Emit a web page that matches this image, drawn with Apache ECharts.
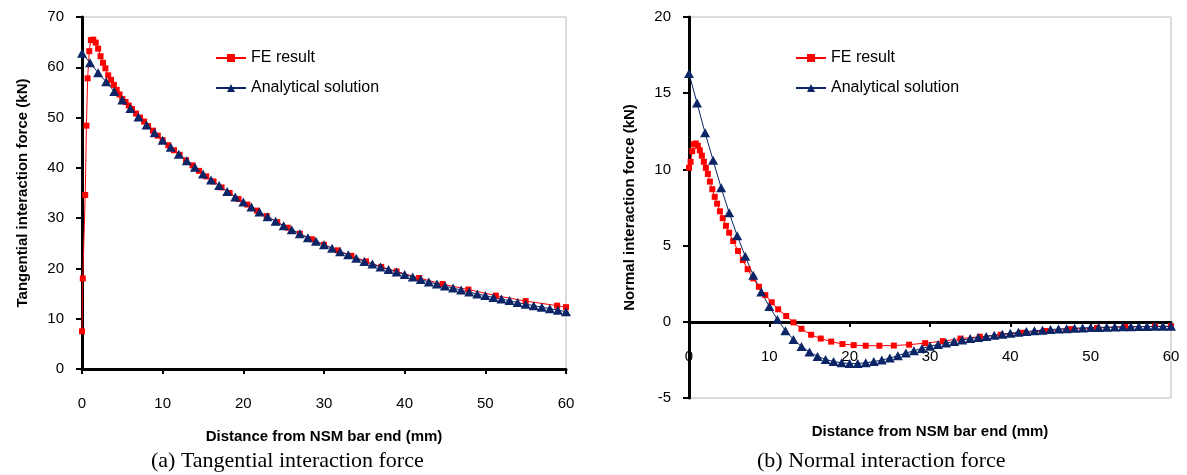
<!DOCTYPE html>
<html>
<head>
<meta charset="utf-8">
<script src="https://cdn.jsdelivr.net/npm/echarts@6/dist/echarts.min.js"></script>
<style>
html,body{margin:0;padding:0;background:#fff;}
#chart{width:1187px;height:475px;}
</style>
</head>
<body>
<div id="chart"></div>
<script>
// ---- Data ----
// Panel (a): tangential interaction force (kN)
const tangFE_x = [0, 0.1, 0.4, 0.55, 0.7, 0.9, 1.1, 1.4, 1.7, 2.0, 2.3, 2.6, 2.9, 3.25, 3.6, 3.95, 4.3, 4.65, 5.0, 5.4, 5.8, 6.2, 6.7, 7.2, 7.7, 8.2, 8.8, 9.4, 10.0, 10.7, 11.4, 12.1, 12.9, 13.7, 14.5, 15.4, 16.3, 17.3, 18.3, 19.4, 20.5, 21.7, 22.9, 24.2, 25.5, 27.0, 28.5, 30.0, 31.7, 33.4, 35.2, 37.1, 39.0, 41.8, 44.7, 47.9, 51.3, 55.0, 58.9, 60];
const tangFE_y = [7.5, 18.0, 34.6, 48.4, 57.8, 63.2, 65.4, 65.5, 64.9, 63.7, 62.2, 60.9, 59.8, 58.4, 57.5, 56.5, 55.5, 54.6, 53.7, 53.1, 52.4, 51.7, 50.8, 50.0, 49.2, 48.3, 47.4, 46.4, 45.5, 44.5, 43.5, 42.6, 41.5, 40.5, 39.4, 38.3, 37.3, 36.1, 35.0, 33.8, 32.7, 31.5, 30.4, 29.2, 28.1, 26.9, 25.8, 24.7, 23.6, 22.5, 21.4, 20.3, 19.4, 18.1, 16.9, 15.8, 14.6, 13.5, 12.6, 12.3];
const anaX = [0,1,2,3,4,5,6,7,8,9,10,11,12,13,14,15,16,17,18,19,20,21,22,23,24,25,26,27,28,29,30,31,32,33,34,35,36,37,38,39,40,41,42,43,44,45,46,47,48,49,50,51,52,53,54,55,56,57,58,59,60];
const tangAna_y = [62.8, 60.9, 58.9, 57.1, 55.2, 53.5, 51.8, 50.1, 48.5, 47.0, 45.5, 44.1, 42.7, 41.4, 40.1, 38.8, 37.6, 36.5, 35.3, 34.2, 33.2, 32.2, 31.2, 30.3, 29.4, 28.5, 27.7, 26.9, 26.1, 25.4, 24.7, 24.0, 23.3, 22.7, 22.0, 21.4, 20.9, 20.3, 19.8, 19.3, 18.8, 18.3, 17.8, 17.3, 16.9, 16.5, 16.1, 15.7, 15.3, 14.9, 14.6, 14.2, 13.9, 13.6, 13.2, 12.9, 12.6, 12.3, 12.0, 11.7, 11.4];
// Panel (b): normal interaction force (kN)
const normFE_x = [0, 0.2, 0.4, 0.6, 0.85, 1.1, 1.35, 1.6, 1.85, 2.1, 2.35, 2.6, 2.9, 3.2, 3.5, 3.85, 4.2, 4.6, 5.0, 5.5, 6.1, 6.7, 7.3, 8.0, 8.7, 9.5, 10.3, 11.1, 12.1, 13.0, 14.0, 15.2, 16.4, 17.7, 19.1, 20.5, 22.0, 23.7, 25.5, 27.4, 29.4, 31.6, 33.8, 36.2, 38.8, 41.5, 44.4, 47.5, 50.8, 54.3, 58.0, 60];
const normFE_y = [10.1, 10.5, 11.2, 11.65, 11.7, 11.55, 11.25, 10.9, 10.5, 10.1, 9.7, 9.2, 8.7, 8.2, 7.75, 7.25, 6.8, 6.3, 5.85, 5.3, 4.65, 4.05, 3.45, 2.85, 2.3, 1.75, 1.28, 0.82, 0.38, -0.04, -0.46, -0.85, -1.1, -1.3, -1.46, -1.53, -1.57, -1.57, -1.56, -1.5, -1.4, -1.27, -1.1, -0.98, -0.85, -0.72, -0.6, -0.48, -0.4, -0.34, -0.3, -0.29];
const normAna_y = [16.3, 14.35, 12.4, 10.6, 8.8, 7.15, 5.65, 4.3, 3.05, 1.95, 1.0, 0.15, -0.58, -1.16, -1.62, -1.98, -2.27, -2.47, -2.6, -2.69, -2.74, -2.74, -2.69, -2.61, -2.51, -2.38, -2.22, -2.05, -1.9, -1.75, -1.6, -1.49, -1.39, -1.3, -1.2, -1.1, -1.03, -0.96, -0.88, -0.81, -0.75, -0.69, -0.64, -0.59, -0.55, -0.51, -0.47, -0.45, -0.42, -0.4, -0.38, -0.37, -0.35, -0.34, -0.33, -0.32, -0.31, -0.31, -0.3, -0.3, -0.3];

const seriesNames = ['FE result', 'Analytical solution'];
const xTitle = 'Distance from NSM bar end (mm)';
const yTitles = ['Tangential interaction force (kN)', 'Normal interaction force (kN)'];
const captions = ['(a) Tangential interaction force', '(b) Normal interaction force'];

const zip = (xs, ys) => xs.map((x, i) => [x, ys[i]]);
const SANS = '"Liberation Sans", Arial, sans-serif';
const SERIF = '"Liberation Serif", "Times New Roman", serif';
const RED = '#ff0000';
const NAVY = '#0b2566';

function xAxisCfg(grid, gap, offset) {
  return {
    gridIndex: grid, type: 'value', min: 0, max: 60, interval: 10,
    position: 'bottom', offset: offset,
    name: xTitle, nameLocation: 'middle', nameGap: gap,
    nameTextStyle: {fontFamily: SANS, fontWeight: 'bold', fontSize: 15, color: '#000'},
    axisLine: {onZero: false, lineStyle: {color: '#000', width: 3}},
    axisTick: {show: true, inside: false, length: 5, lineStyle: {color: '#000', width: 2}},
    axisLabel: {margin: 27, fontFamily: SANS, fontSize: 15, color: '#000'},
    splitLine: {show: false}
  };
}
function yAxisCfg(grid, min, max, interval, name) {
  return {
    gridIndex: grid, type: 'value', min: min, max: max, interval: interval,
    name: name, nameLocation: 'middle', nameGap: 52,
    nameTextStyle: {fontFamily: SANS, fontWeight: 'bold', fontSize: 15, color: '#000'},
    axisLine: {show: true, onZero: false, lineStyle: {color: '#000', width: 3}},
    axisTick: {show: true, inside: false, length: 6, lineStyle: {color: '#000', width: 2}},
    axisLabel: {margin: 18, fontFamily: SANS, fontSize: 15, color: '#000'},
    splitLine: {show: false}
  };
}
function feSeries(xi, data) {
  return {
    name: seriesNames[0], type: 'line', xAxisIndex: xi, yAxisIndex: xi, data: data,
    symbol: 'rect', symbolSize: 6, clip: false,
    itemStyle: {color: RED}, lineStyle: {color: RED, width: 1}
  };
}
function anaSeries(xi, data) {
  return {
    name: seriesNames[1], type: 'line', xAxisIndex: xi, yAxisIndex: xi, data: data,
    symbol: 'triangle', symbolSize: [10, 9], clip: false,
    itemStyle: {color: NAVY}, lineStyle: {color: NAVY, width: 1}
  };
}
function legendCfg(left) {
  return {
    left: left, top: 49, orient: 'vertical', itemWidth: 30, itemHeight: 10, itemGap: 12,
    padding: 0, data: seriesNames, selectedMode: false,
    textStyle: {fontFamily: SANS, fontSize: 16, color: '#000', lineHeight: 18}
  };
}

const chart = echarts.init(document.getElementById('chart'), null, {renderer: 'canvas'});
chart.setOption({
  animation: false,
  backgroundColor: '#fff',
  grid: [
    {left: 82, top: 17, width: 484, height: 352, show: true, borderColor: '#b8b8b8', borderWidth: 1, containLabel: false, outerBoundsMode: 'none'},
    {left: 689, top: 17, width: 482, height: 381, show: true, borderColor: '#b8b8b8', borderWidth: 1, containLabel: false, outerBoundsMode: 'none'}
  ],
  xAxis: [xAxisCfg(0, 60, 0), xAxisCfg(1, 102, -76)],
  yAxis: [yAxisCfg(0, 0, 70, 10, yTitles[0]), yAxisCfg(1, -5, 20, 5, yTitles[1])],
  legend: [legendCfg(215), legendCfg(795)],
  series: [
    feSeries(0, zip(tangFE_x, tangFE_y)),
    anaSeries(0, zip(anaX, tangAna_y)),
    feSeries(1, zip(normFE_x, normFE_y)),
    anaSeries(1, zip(anaX, normAna_y))
  ],
  graphic: [
    {type: 'text', left: 151, top: 450, style: {text: captions[0], font: '22px ' + SERIF, fill: '#000'}},
    {type: 'text', left: 757, top: 450, style: {text: captions[1], font: '22px ' + SERIF, fill: '#000'}}
  ]
});
</script>
</body>
</html>
